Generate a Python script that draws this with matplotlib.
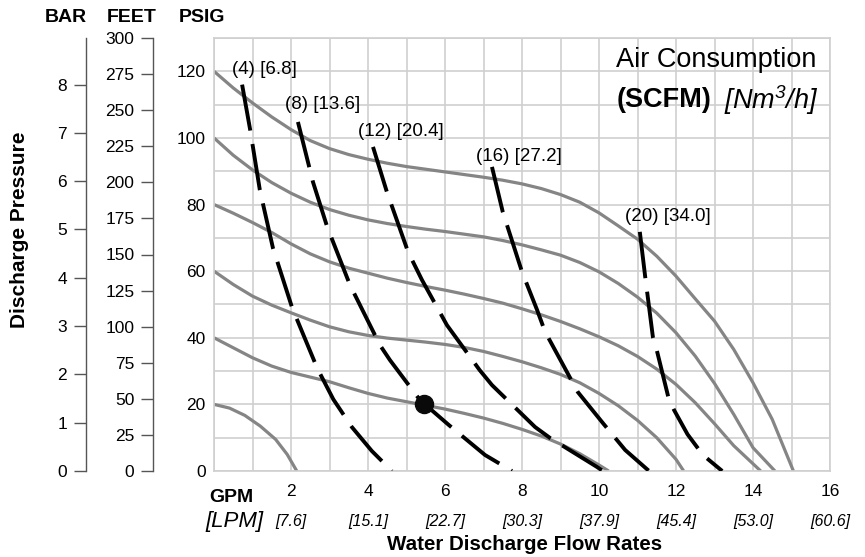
import numpy as np
import matplotlib.pyplot as plt

plt.rcParams['font.family'] = ['Liberation Sans', 'DejaVu Sans']
plt.rcParams['mathtext.default'] = 'regular'

# axis ticks
gpm_ticks = [2, 4, 6, 8, 10, 12, 14, 16]
lpm_labels = ['[7.6]', '[15.1]', '[22.7]', '[30.3]', '[37.9]', '[45.4]', '[53.0]', '[60.6]']
psig_ticks = [0, 20, 40, 60, 80, 100, 120]
feet_ticks = [0, 25, 50, 75, 100, 125, 150, 175, 200, 225, 250, 275, 300]
bar_ticks = [0, 1, 2, 3, 4, 5, 6, 7, 8]

# pump curves (gray), discharge psig vs gpm, one per inlet air pressure
p120_x = [0, 0.5, 1, 1.5, 2, 2.5, 3, 3.5, 4, 4.5, 5, 5.5, 6, 6.5, 7, 7.5, 8, 8.5, 9, 9.5, 10,
          10.5, 11, 11.5, 12, 12.5, 13, 13.5, 14, 14.5, 15.05]
p120_y = [120, 115, 110.5, 106.3, 102.5, 99.2, 96.8, 95, 93.6, 92.4, 91.4, 90.6, 89.8, 89, 88.2, 87.3,
          86.2, 84.8, 83, 80.7, 77.5, 73.6, 69.6, 64.5, 58.5, 51.7, 45, 36.5, 26.5, 15.5, 0]
p100_x = [0, 0.5, 1, 1.5, 2, 2.5, 3, 3.5, 4, 4.5, 5, 5.5, 6, 6.5, 7, 7.5, 8, 8.5, 9, 9.5, 10,
          10.5, 11, 11.5, 12, 12.5, 13, 13.5, 14, 14.57]
p100_y = [100, 94.8, 90.4, 86.6, 83.4, 80.7, 78.5, 76.8, 75.4, 74.3, 73.4, 72.6, 71.9, 71.1, 70.3, 69.2,
          67.9, 66.4, 64.8, 62.6, 59.8, 56.3, 52.2, 47.4, 41.5, 34.5, 26.3, 17, 7, 0]
p80_x = [0, 0.5, 1, 1.5, 2, 2.5, 3, 3.5, 4, 4.5, 5, 5.5, 6, 6.5, 7, 7.5, 8, 8.5, 9, 9.5, 10,
         10.5, 11, 11.5, 12, 12.5, 13, 13.5, 14.2]
p80_y = [80, 77.4, 74.6, 71.6, 68.2, 65.2, 62.8, 60.9, 59.4, 57.9, 56.6, 55.4, 54.3, 53.1, 51.8, 50.4,
         48.7, 46.9, 44.9, 42.7, 40.3, 37.6, 34.4, 30.6, 26, 20.5, 14.2, 7.6, 0]
p60_x = [0, 0.5, 1, 1.5, 2, 2.5, 3, 3.5, 4, 4.5, 5, 5.5, 6, 6.5, 7, 7.5, 8, 8.5, 9, 9.5, 10,
         10.5, 11, 11.5, 12, 12.2]
p60_y = [60, 56, 52.5, 49.8, 47.5, 45.3, 43.3, 41.8, 40.7, 39.9, 39.3, 38.7, 38, 37.1, 35.9, 34.4,
         32.8, 31, 29, 26.5, 23.3, 19.6, 15.2, 10, 3.5, 0]
p40_x = [0, 0.5, 1, 1.5, 2, 2.5, 3, 3.5, 4, 4.5, 5, 5.5, 6, 6.5, 7, 7.5, 8, 8.5, 9, 9.5, 10, 10.25]
p40_y = [40, 37, 34, 31.5, 29.6, 28.2, 26.8, 25, 23.3, 21.9, 20.8, 19.7, 18.6, 17.3, 15.9, 14.3,
         12.5, 10.5, 8.1, 5.2, 1.8, 0]
p20_x = [0, 0.4, 0.8, 1.2, 1.6, 1.9, 2.15]
p20_y = [20, 18.9, 16.7, 13.5, 9.5, 5, 0]

# air consumption curves (black dashed)
a4_x = [0.73, 0.94, 1.19, 1.53, 2.03, 2.68, 3.1, 3.58, 4.1, 4.62]
a4_y = [116, 102.4, 84.4, 67, 49, 30.9, 21.5, 13.2, 6, 0]
a8_x = [2.18, 2.57, 2.94, 3.53, 4.31, 4.57, 5.35, 6.1, 7.04, 7.74]
a8_y = [104.8, 86.8, 73.3, 55.9, 37.8, 33.3, 21.3, 13.8, 4.8, 0]
a12_x = [4.13, 4.49, 5.04, 5.4, 6.05, 6.9, 7.22, 8.34, 8.73, 9.95, 10.1]
a12_y = [97.3, 83.8, 65.8, 57.4, 43.8, 30.3, 25.8, 13.2, 9.9, 1.2, 0]
a16_x = [7.22, 7.5, 8.0, 8.39, 8.6, 9.45, 10.1, 10.68, 11.3]
a16_y = [91.3, 77.8, 59.8, 48.4, 41.8, 23.7, 14.4, 6.3, 0]
a20_x = [11.06, 11.2, 11.4, 11.5, 11.8, 11.95, 12.3, 12.7, 13.2]
a20_y = [71.8, 58.3, 40.2, 36.3, 22.2, 18.3, 11, 4.8, 0]

air_labels = ['(4) [6.8]', '(8) [13.6]', '(12) [20.4]', '(16) [27.2]', '(20) [34.0]']
air_label_x = [1.32, 2.81, 4.86, 7.92, 11.79]
air_label_y = [120.4, 110, 101.8, 94.3, 76.3]

point_x = [5.45]
point_y = [20]

fig = plt.figure(figsize=(8.65, 5.57), dpi=100)
ax = fig.add_axes([214 / 865, 86 / 557, 616 / 865, 433 / 557])
ax.set_xlim(0, 16)
ax.set_ylim(0, 130)

grid_c = '#cfcfcf'
ax.set_xticks(gpm_ticks)
ax.set_xticks(np.arange(0, 17, 1), minor=True)
ax.set_yticks(psig_ticks)
ax.set_yticks(np.arange(0, 131, 10), minor=True)
ax.grid(True, which='both', color=grid_c, lw=1.2)
ax.set_axisbelow(True)
for s in ax.spines.values():
    s.set_color(grid_c)
    s.set_linewidth(1.2)
ax.tick_params(which='both', length=0)
ax.tick_params(axis='y', pad=6, labelsize=12.5)
ax.tick_params(axis='x', pad=9, labelsize=12.5)

gray = '#858585'
for xs, ys in [(p120_x, p120_y), (p100_x, p100_y), (p80_x, p80_y),
               (p60_x, p60_y), (p40_x, p40_y), (p20_x, p20_y)]:
    ax.plot(xs, ys, color=gray, lw=2.3, solid_capstyle='butt', solid_joinstyle='round', zorder=2)

for xs, ys in [(a4_x, a4_y), (a8_x, a8_y), (a12_x, a12_y), (a16_x, a16_y), (a20_x, a20_y)]:
    ax.plot(xs, ys, color='black', lw=2.8, dashes=(12, 3.5), zorder=3)

for t, x, y in zip(air_labels, air_label_x, air_label_y):
    ax.text(x, y, t, ha='center', va='center', fontsize=13.5, zorder=4)

ax.plot(point_x, point_y, 'o', ms=13, color='#0a0a0a', zorder=5)

# LPM labels under the GPM ticks
lpm = ax.secondary_xaxis('bottom')
lpm.set_xticks(gpm_ticks, labels=lpm_labels)
lpm.tick_params(length=0, pad=31, labelsize=11.5)
for lab in lpm.get_xticklabels():
    lab.set_fontstyle('italic')
lpm.spines['bottom'].set_visible(False)

# feet and bar scales
feet = ax.secondary_yaxis(-(214 - 153) / 616, functions=(lambda p: p * 300 / 130, lambda f: f * 130 / 300))
feet.set_yticks(feet_ticks)
bar = ax.secondary_yaxis(-(214 - 86) / 616, functions=(lambda p: p / 14.5038, lambda b: b * 14.5038))
bar.set_yticks(bar_ticks)
for sa in (feet, bar):
    sa.tick_params(length=8.5, width=1, color='#555555', pad=5, labelsize=12.5)
    sa.spines['left'].set_color('#555555')
    sa.spines['left'].set_linewidth(1)

# headers and axis titles
fig.text(66 / 865, 1 - 17 / 557, 'BAR', ha='center', va='center', fontsize=14, fontweight='bold')
fig.text(132 / 865, 1 - 17 / 557, 'FEET', ha='center', va='center', fontsize=14, fontweight='bold')
fig.text(202 / 865, 1 - 17 / 557, 'PSIG', ha='center', va='center', fontsize=14, fontweight='bold')
fig.text(20 / 865, 1 - 230 / 557, 'Discharge Pressure', rotation=90, ha='center', va='center',
         fontsize=15, fontweight='bold')
fig.text(231 / 865, 1 - 497 / 557, 'GPM', ha='center', va='center', fontsize=14, fontweight='bold')
fig.text(234 / 865, 1 - 522 / 557, '[LPM]', ha='center', va='center', fontsize=16, fontstyle='italic')
fig.text(525 / 865, 1 - 545 / 557, 'Water Discharge Flow Rates', ha='center', va='center',
         fontsize=14.8, fontweight='bold')

fig.text(816 / 865, 1 - 60 / 557, 'Air Consumption', ha='right', va='center', fontsize=19.5)
fig.text(712 / 865, 1 - 100 / 557, '(SCFM)', ha='right', va='center', fontsize=19.5, fontweight='bold')
fig.text(818 / 865, 1 - 100 / 557, '[Nm$^3$/h]', ha='right', va='center', fontsize=19.5, fontstyle='italic')

fig.savefig('out.png', dpi=100)
